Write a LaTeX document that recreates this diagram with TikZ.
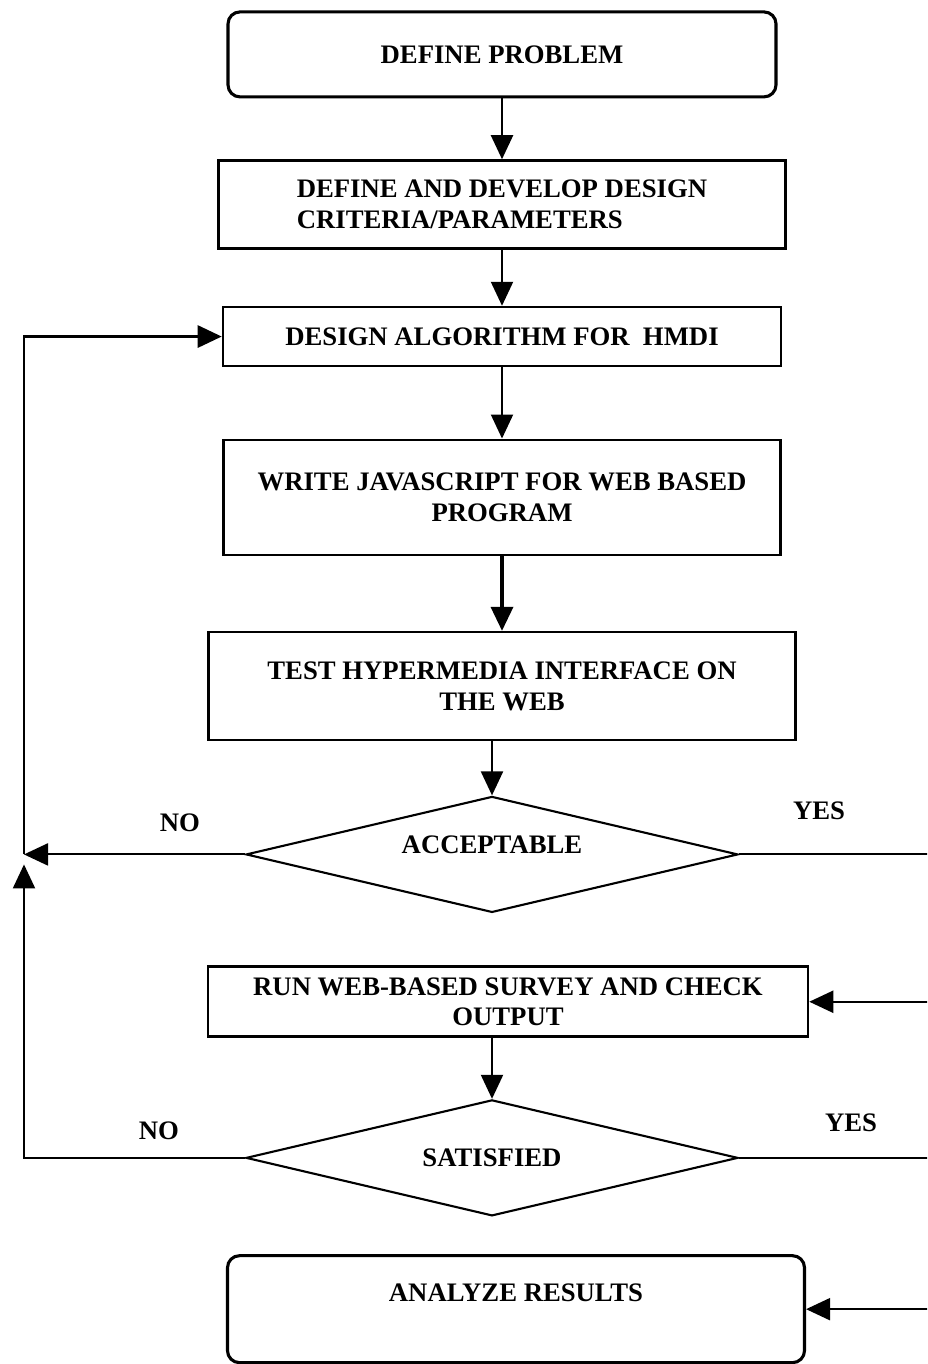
\documentclass[tikz,border=0pt]{standalone}
\usepackage{fontspec}
\setmainfont{Liberation Serif}
\usetikzlibrary{arrows.meta,positioning,shapes.geometric}

\begin{document}
\begin{tikzpicture}[
  node distance=1.5cm,
  font=\bfseries\fontsize{19}{22}\selectfont,
  stepbox/.style={draw, line width=1.8pt, minimum width=14cm, minimum height=2cm, align=center},
  endbox/.style={stepbox, rounded corners=0.3cm, line width=2.2pt},
  decision/.style={draw, diamond, line width=1.5pt, minimum width=12.3cm, minimum height=2.9cm, inner sep=0pt, aspect=4.2},
  flow/.style={line width=1.5pt, -{Triangle[length=0.6cm, width=0.55cm]}},
]
\useasboundingbox (0,0) rectangle (23.175,-34.1);
\clip (0,0) rectangle (23.175,-34.1);

\node[endbox, minimum width=13.7cm, minimum height=2.125cm] (define) at (12.55,-1.36) {DEFINE PROBLEM};
\node[stepbox, minimum width=14.175cm, minimum height=2.2cm, align=left, below=1.52cm of define] (criteria) {DEFINE AND DEVELOP DESIGN\\CRITERIA/PARAMETERS};
\node[stepbox, minimum width=13.95cm, minimum height=1.475cm, below=1.4cm of criteria] (algorithm) {DESIGN ALGORITHM FOR\ \ HMDI};
\node[stepbox, minimum width=13.925cm, minimum height=2.875cm, below=1.78cm of algorithm] (script) {WRITE JAVASCRIPT FOR WEB BASED\\PROGRAM};
\node[stepbox, minimum width=14.675cm, minimum height=2.7cm, below=1.87cm of script] (test) {TEST HYPERMEDIA INTERFACE ON\\THE WEB};
\node[decision, text depth=0.5cm, below=1.35cm of test, xshift=-0.25cm] (accept) {ACCEPTABLE};
\node[stepbox, minimum width=15cm, minimum height=1.75cm, below=1.3cm of accept, xshift=0.4cm] (survey) {RUN WEB-BASED SURVEY AND CHECK\\OUTPUT};
\node[decision, below=1.52cm of survey, xshift=-0.4cm] (satisfied) {SATISFIED};
\node[endbox, minimum width=14.425cm, minimum height=2.675cm, text depth=0.85cm, align=none, below=0.93cm of satisfied, xshift=0.6cm] (analyze) {ANALYZE RESULTS};

% yes / no labels
\node (no1) at ([xshift=-1.625cm, yshift=0.8cm]accept.west) {NO};
\node (yes1) at ([xshift=2.0cm, yshift=1.1cm]accept.east) {YES};
\node (no2) at ([xshift=-2.15cm, yshift=0.675cm]satisfied.west) {NO};
\node (yes2) at ([xshift=2.8cm, yshift=0.875cm]satisfied.east) {YES};

% main flow
\draw[flow] (define) -- (criteria);
\draw[flow] (criteria) -- (algorithm);
\draw[flow] (algorithm) -- (script);
\draw[flow, line width=2.5pt] (script) -- (test);
\draw[flow] (test.south -| accept.north) -- (accept);
\draw[flow] (survey.south -| satisfied.north) -- (satisfied);

% loops back on the left
\coordinate (join) at (accept.west -| 0.6,0);
\draw[flow] (accept.west) -- (join);
\draw[flow] (satisfied.west) -| ([yshift=-0.25cm]join);
\draw[flow, line width=2pt] (join) |- (algorithm.west);

% yes branches leave the page on the right
\coordinate (rail) at (24,0);
\draw[flow] (accept.east) -- (accept.east -| rail) |- (survey.east);
\draw[flow] (satisfied.east) -- (satisfied.east -| rail) |- (analyze.east);
\end{tikzpicture}
\end{document}
